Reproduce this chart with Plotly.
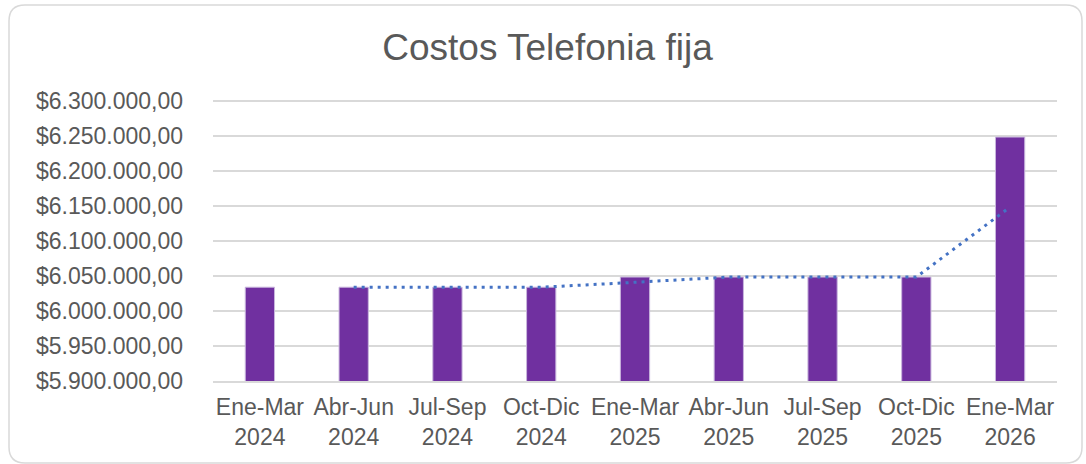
import plotly.graph_objects as go

categories = ["Ene-Mar<br>2024", "Abr-Jun<br>2024", "Jul-Sep<br>2024", "Oct-Dic<br>2024",
              "Ene-Mar<br>2025", "Abr-Jun<br>2025", "Jul-Sep<br>2025", "Oct-Dic<br>2025",
              "Ene-Mar<br>2026"]
costos = [6034000, 6034000, 6034000, 6034000, 6048500, 6048500, 6048500, 6048500, 6248500]
# 2-period moving average trendline (starts at the 2nd category)
trend_categories = categories[1:]
trend_values = [6034000, 6034000, 6034000, 6041000, 6048500, 6048500, 6048500, 6148500]

W, H = 1086, 464
HEAD = 3  # px of headroom so the top gridline is not clipped
L, R, T, B = 213, 1057, 101 - HEAD, 381  # plot area in pixels
Y_MIN, Y_MAX = 5900000, 6300000 + HEAD * 400000 / 280

fig = go.Figure()
fig.add_trace(go.Bar(
    x=categories, y=costos,
    marker=dict(color="#7030A0", line=dict(color="#C9B6DD", width=1)),
    showlegend=False, hoverinfo="x+y",
))
fig.add_trace(go.Scatter(
    x=trend_categories, y=trend_values, mode="lines",
    line=dict(color="#4472C4", width=3, dash="3px,5px"),
    showlegend=False,
))

def px_x(p):
    return (p - L) / (R - L)

def px_y(p):
    return (B - p) / (B - T)

x0, x1, y0, y1 = 9, 1082, 5, 463
r = 16
path = (
    f"M {px_x(x0 + r)} {px_y(y0)} "
    f"L {px_x(x1 - r)} {px_y(y0)} "
    f"Q {px_x(x1)} {px_y(y0)} {px_x(x1)} {px_y(y0 + r)} "
    f"L {px_x(x1)} {px_y(y1 - r)} "
    f"Q {px_x(x1)} {px_y(y1)} {px_x(x1 - r)} {px_y(y1)} "
    f"L {px_x(x0 + r)} {px_y(y1)} "
    f"Q {px_x(x0)} {px_y(y1)} {px_x(x0)} {px_y(y1 - r)} "
    f"L {px_x(x0)} {px_y(y0 + r)} "
    f"Q {px_x(x0)} {px_y(y0)} {px_x(x0 + r)} {px_y(y0)} Z"
)
fig.add_shape(type="path", path=path, xref="paper", yref="paper",
              line=dict(color="#D9D9D9", width=1.5), layer="below")

fig.update_layout(
    width=W, height=H,
    margin=dict(l=L, r=W - R, t=T, b=H - B),
    paper_bgcolor="white", plot_bgcolor="white",
    separators=",.",
    font=dict(family="Liberation Sans, Arial, sans-serif", color="#595959", size=23),
    title=dict(text="Costos Telefonia fija", x=0.5 + 4.5 / W, xanchor="center",
               y=1 - 47 / H, yanchor="middle", yref="container",
               font=dict(size=37, color="#595959")),
    bargap=0.688,
    xaxis=dict(showgrid=False, showline=True, linecolor="#D9D9D9", linewidth=2,
               ticks="", ticklabelstandoff=4,
               tickfont=dict(size=23, color="#595959"), fixedrange=True),
    yaxis=dict(range=[Y_MIN, Y_MAX], dtick=50000, tick0=5900000,
               tickprefix="$", tickformat=",.2f",
               showgrid=True, gridcolor="#D9D9D9", gridwidth=1.5,
               zeroline=False, showline=False, ticks="",
               ticklabelstandoff=29,
               tickfont=dict(size=23, color="#595959"), fixedrange=True),
)

fig.write_html("out.html", config={"displayModeBar": False},
               post_script="document.body.style.margin='0';document.body.style.padding='0';")
